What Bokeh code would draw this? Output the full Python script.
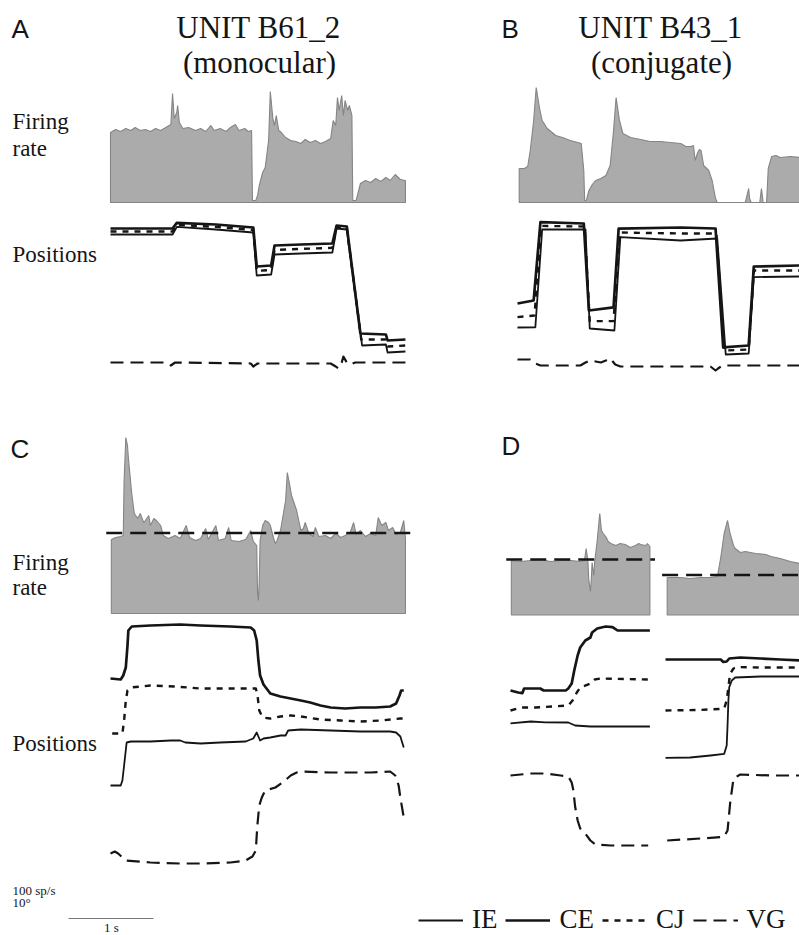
from bokeh.plotting import figure
from bokeh.models import Range1d, Label, Legend, LegendItem
from bokeh.embed import file_html
from bokeh.resources import INLINE

# ---------------- DATA (time in s, firing rate in sp/s, positions in deg) ----------------
# Panel A  (unit B61_2, monocular)
tA_rate = [0.00,0.06,0.12,0.18,0.24,0.29,0.35,0.41,0.47,0.53,0.59,0.65,0.71,0.73,0.75,0.78,0.79,0.81,0.85,0.92,
           1.00,1.06,1.12,1.18,1.22,1.29,1.36,1.41,1.47,1.51,1.58,1.62,1.66,1.67,1.71,1.73,1.75,1.79,1.82,1.86,
           1.88,1.91,1.93,1.95,1.98,2.01,2.06,2.12,2.18,2.24,2.29,2.35,2.41,2.47,2.53,2.59,2.62,2.65,2.67,2.69,
           2.72,2.74,2.76,2.79,2.81,2.84,2.85,2.89,2.92,2.94,3.00,3.06,3.12,3.18,3.24,3.29,3.35,3.41,3.47]
rateA = [140,146,142,148,144,150,144,146,142,148,144,150,156,218,168,180,194,160,148,150,
         144,148,142,154,144,148,142,150,156,144,148,142,144,4,4,14,34,60,70,124,
         222,168,154,174,144,140,130,124,122,118,126,120,124,118,122,128,164,154,210,184,
         214,174,204,184,194,174,4,4,24,38,44,40,48,42,50,44,56,46,44]
tA_ce = [0,0.73,0.78,1.24,1.68,1.72,1.89,1.93,2.24,2.61,2.66,2.78,2.94,3.24,3.26,3.47]
ceA = [31,31,33.8,33,31.5,12,12.5,22.5,23,23.5,32.5,32,-21.5,-22,-25,-24.5]
tA_ie = [0,0.73,0.78,1.24,1.68,1.72,1.89,1.93,2.24,2.61,2.66,2.78,2.96,3.24,3.26,3.47]
ieA = [28,28,31.8,30.5,29,7.5,8,18,18.5,19,31,30.5,-27.5,-27,-31,-30.5]
tA_cj = [0,0.73,0.78,1.24,1.68,1.72,1.89,1.93,2.24,2.61,2.66,2.78,2.95,3.24,3.26,3.47]
cjA = [29.5,29.5,32.8,31.8,30.3,9.8,10.3,20.3,20.8,21.3,31.8,31.3,-24.5,-24.5,-28,-27.5]
tA_vg = [0,0.65,0.71,0.76,1.65,1.68,1.73,2.59,2.65,2.68,2.72,2.74,2.78,2.82,2.88,3.47]
vgA = [0.5,0.5,-1,0.5,0,-1.5,0,0,-1.5,-2.5,0.5,3.5,0.5,-0.5,0.5,0.5]

# Panel B  (unit B43_1, conjugate)
tB_rate = [0.02,0.08,0.12,0.15,0.19,0.22,0.26,0.29,0.35,0.45,0.53,0.62,0.71,0.75,0.78,0.79,0.81,0.84,0.88,0.92,
           0.98,1.04,1.09,1.13,1.16,1.20,1.24,1.33,1.45,1.56,1.68,1.80,1.92,1.98,2.04,2.07,2.09,2.12,2.14,2.16,
           2.19,2.25,2.29,2.33,2.35,2.68,2.72,2.73,2.75,2.85,2.87,2.89,2.93,2.95,2.99,3.04,3.09,3.21,3.32]
rateB = [68,68,72,104,164,230,188,164,148,134,130,124,120,118,64,4,4,24,36,44,
         48,54,74,144,210,164,138,130,126,122,122,120,118,112,112,114,84,100,106,104,
         74,64,44,8,0,0,28,8,0,0,28,0,0,68,92,94,90,92,90]
tB_ce = [0,0.19,0.27,0.78,0.84,1.13,1.19,1.92,2.33,2.42,2.72,2.78,3.32]
ceB = [-6.5,-5,34.2,33.5,-10,-8.4,30.9,31.5,31,-28.4,-27.5,12,12.5]
tB_ie = [0,0.21,0.29,0.80,0.85,1.14,1.21,1.92,2.35,2.45,2.72,2.78,3.32]
ieB = [-18.5,-18.4,30.5,30.5,-19,-20,26.7,25,26,-32,-31.5,6.7,7]
tB_cj = [0,0.20,0.28,0.79,0.85,1.13,1.20,1.92,2.34,2.43,2.72,2.78,3.32]
cjB = [-13.3,-12.5,32.3,32,-15.3,-15.3,29,28.5,28.5,-30,-29.5,10,10]
tB_vg = [0,0.15,0.21,0.27,0.74,0.80,0.86,0.98,1.04,1.09,1.15,1.21,2.15,2.27,2.33,2.36,2.41,3.32]
vgB = [3,3,1,0,0,1.5,2.5,1.5,2.5,3.5,0.5,-0.5,-0.5,-0.5,-2.5,-1.5,0,0]

# Panel C
tC_rate = [0.01,0.06,0.12,0.15,0.16,0.18,0.20,0.21,0.25,0.28,0.32,0.35,0.39,0.41,0.45,0.47,0.51,0.54,0.59,0.62,
           0.68,0.76,0.82,0.89,0.93,1.00,1.06,1.12,1.15,1.24,1.27,1.35,1.39,1.42,1.51,1.59,1.65,1.68,1.72,1.73,
           1.74,1.75,1.76,1.79,1.82,1.86,1.88,1.92,1.94,1.96,2.00,2.04,2.06,2.08,2.11,2.13,2.15,2.19,2.24,2.27,
           2.29,2.33,2.38,2.41,2.45,2.53,2.59,2.65,2.71,2.76,2.82,2.86,2.89,2.94,3.00,3.06,3.12,3.15,3.19,3.24,
           3.27,3.32,3.36,3.41,3.45,3.47]
rateC = [148,152,154,156,266,352,336,312,240,200,190,200,182,186,196,176,190,186,176,156,
         150,156,150,176,152,146,150,170,148,176,146,150,172,146,144,148,166,144,136,40,
         26,66,146,176,186,182,176,150,140,146,166,206,226,282,256,236,226,206,166,170,
         182,162,154,172,154,156,150,160,152,156,162,182,158,166,154,160,156,192,176,182,
         166,172,158,162,186,150]
meanC = 161
tC_ce = [0,0.12,0.15,0.18,0.20,0.21,0.25,0.47,0.82,1.06,1.41,1.65,1.69,1.72,1.74,1.76,1.80,1.88,2.00,2.12,
         2.24,2.35,2.47,2.59,2.76,2.94,3.12,3.29,3.36,3.40,3.42,3.45]
ceC = [31,30.5,32.5,36.5,47.5,55,57,57.5,58,57.5,57,56.5,55,50,40,32.5,28,23.5,22,21,
       20,19,17.5,16.5,16,16.5,16.5,17,18.5,22.5,25,25]
tC_cj = [0.02,0.14,0.16,0.18,0.20,0.24,0.47,0.76,1.06,1.41,1.71,1.73,1.75,1.79,1.88,2.00,2.12,2.24,2.47,2.71,
         2.94,3.18,3.41,3.47]
cjC = [3.5,3.5,10,20,25,26.5,27.5,27,26,26,26,22.5,15,11.5,11,12,12.5,12,10.5,10,9.5,10,11,11]
tC_ie = [0,0.12,0.14,0.16,0.19,0.24,0.47,0.71,0.82,0.88,1.06,1.29,1.59,1.68,1.72,1.74,1.76,1.80,1.88,2.00,
         2.06,2.09,2.24,2.59,2.94,3.29,3.36,3.41,3.45]
ieC = [-22.5,-22.5,-20,-12.5,-1,-0.5,-0.5,0,0,-1,-1.5,-1,-0.5,1,4,2,0,1,1.5,2.5,
       2.5,5,5.5,5,4.5,4.5,4,2,-3.5]
tC_vg = [0,0.05,0.09,0.18,0.47,0.82,1.06,1.41,1.59,1.67,1.71,1.72,1.73,1.75,1.78,1.82,1.94,2.04,2.12,2.19,
         2.24,2.59,2.82,3.06,3.29,3.35,3.39,3.41,3.45]
vgC = [4.5,5.5,4.5,1,0,-0.5,-0.5,0,1,3,6,13.5,19.5,28.5,32.5,36,37.5,40.5,43.5,45,
       45.5,45,45,45,45.5,43.5,38.5,32.5,22.5]

# Panel D, left episode
tDL_rate = [0.01,0.12,0.24,0.35,0.47,0.59,0.71,0.82,0.87,0.89,0.91,0.92,0.94,0.95,0.96,0.98,0.99,1.02,1.05,1.07,
            1.09,1.12,1.15,1.18,1.24,1.29,1.35,1.41,1.47,1.51,1.53,1.59,1.61,1.64]
rateDL = [109,107,109,111,107,109,109,107,109,133,109,73,47,69,105,79,105,149,203,169,
          163,157,147,143,139,143,141,135,139,143,141,139,143,137]
meanDL = 111
tDL_ce = [0,0.09,0.14,0.16,0.35,0.39,0.65,0.68,0.72,0.75,0.79,0.82,0.88,0.94,0.96,1.02,1.12,1.20,1.26,1.64]
ceDL = [15,14,13.7,16,16,15,15,16,18.5,25,32.5,36.5,40,41.5,44,46,47,46.7,45,45]
tDL_cj = [0,0.12,0.29,0.68,0.73,0.78,0.82,0.94,0.99,1.06,1.64]
cjDL = [5,6.5,6.5,7.5,10,14,16.5,18.5,20.5,21,20.5]
tDL_ie = [0,0.24,0.41,0.68,0.76,0.94,1.64]
ieDL = [-1.4,-0.5,-0.9,-1,-2.5,-3,-3]
tDL_vg = [0,0.12,0.24,0.41,0.59,0.68,0.72,0.74,0.76,0.79,0.82,0.88,0.94,1.00,1.18,1.35,1.62]
vgDL = [35,35.5,36,36,35,34.5,31.5,27.5,19.5,12.5,8.5,6,2.5,0.5,0,0,0]

# Panel D, right episode
tDR_rate = [0.02,0.18,0.29,0.41,0.53,0.61,0.65,0.67,0.69,0.73,0.76,0.80,0.82,0.88,0.94,1.06,1.18,1.24,1.35,1.47,1.58]
rateDR = [75,75,73,75,75,77,115,139,163,189,163,139,133,125,127,123,121,117,113,107,103]
meanDR = 80
tDR_ce = [0,0.41,0.65,0.68,0.72,0.75,0.88,1.12,1.35,1.58]
ceDR = [30.5,30.5,30.5,29.3,29.5,31,31.5,31,30.5,30]
tDR_cj = [0,0.41,0.69,0.72,0.74,0.76,0.80,0.84,1.12,1.58]
cjDR = [5,5.3,5.9,10,16.7,23.4,26,26.7,26.5,26.5]
tDR_ie = [0,0.29,0.53,0.69,0.72,0.73,0.74,0.75,0.78,0.82,1.12,1.58]
ieDR = [-18.7,-18.5,-17.5,-16.7,-12.5,-2.5,10,16.7,20,21.5,22,22]
tDR_vg = [0.02,0.41,0.65,0.69,0.73,0.76,0.80,0.88,1.24,1.58]
vgDR = [2.5,3.5,4.2,4.5,7.5,21,33.5,35.5,35,35]

trace_names = ["IE", "CE", "CJ", "VG"]
scale_rate_text = "100 sp/s"
scale_pos_text = "10°"
scale_time_text = "1 s"
SCALE_BAR_S = 1.0

# ---------------- LAYOUT / STYLE ----------------
W, H = 799, 935
PX_PER_S = 85.0      # 1 s
PX_PER_RATE = 0.5    # 100 sp/s = 50 px
PX_PER_DEG = 2.0     # 10 deg = 20 px
# panel: (left px, rate-zero px, position-zero px, vergence-zero px)
PANELS = {
    "A": (110, 202, 290, 363),
    "B": (517, 202, 290, 365),
    "C": (110, 613, 740, 862),
    "DL": (510, 614.5, 720, 845),
    "DR": (665, 614.5, 720, 845),
}
FILL = "#ababab"
EDGE = "#858585"
INK = "#151515"
SERIF = "Liberation Serif"
SANS = "Liberation Sans"
MEAN_EXT = 0.06
STYLES = {
    "IE": dict(line_width=1.8),
    "CE": dict(line_width=2.7),
    "CJ": dict(line_width=2.4, line_dash="6 6"),
    "VG": dict(line_width=2.2, line_dash="13 7"),
}

p = figure(width=W, height=H, x_range=Range1d(0, W), y_range=Range1d(H, 0),
           output_backend="svg", toolbar_location=None, min_border=0,
           x_axis_location=None, y_axis_location=None, outline_line_color=None,
           background_fill_color="white", border_fill_color="white")
p.grid.visible = False

for name, (x0, base, pz, vz) in PANELS.items():
    p.extra_x_ranges["t" + name] = Range1d(-x0 / PX_PER_S, (W - x0) / PX_PER_S)
    p.extra_y_ranges["r" + name] = Range1d((base - H) / PX_PER_RATE, base / PX_PER_RATE)
    p.extra_y_ranges["p" + name] = Range1d((pz - H) / PX_PER_DEG, pz / PX_PER_DEG)
    p.extra_y_ranges["v" + name] = Range1d((vz - H) / PX_PER_DEG, vz / PX_PER_DEG)


def draw_rate(name, t, r, mean=None):
    n = min(len(t), len(r))
    xs = [t[0]] + list(t[:n]) + [t[n - 1]]
    ys = [0] + list(r[:n]) + [0]
    p.patch(xs, ys, fill_color=FILL, line_color=EDGE, line_width=1.1,
            x_range_name="t" + name, y_range_name="r" + name)
    if mean is not None:
        p.line([t[0] - MEAN_EXT, t[n - 1] + MEAN_EXT], [mean, mean], line_color=INK,
               line_width=2.4, line_dash="16 8",
               x_range_name="t" + name, y_range_name="r" + name)


def draw_pos(name, trace, t, v):
    n = min(len(t), len(v))
    rng = ("v" if trace == "VG" else "p") + name
    return p.line(list(t[:n]), list(v[:n]), line_color=INK, line_join="round",
                  x_range_name="t" + name, y_range_name=rng, **STYLES[trace])


draw_rate("A", tA_rate, rateA)
draw_rate("B", tB_rate, rateB)
draw_rate("C", tC_rate, rateC, meanC)
draw_rate("DL", tDL_rate, rateDL, meanDL)
draw_rate("DR", tDR_rate, rateDR, meanDR)

series = {
    "A": {"IE": (tA_ie, ieA), "CE": (tA_ce, ceA), "CJ": (tA_cj, cjA), "VG": (tA_vg, vgA)},
    "B": {"IE": (tB_ie, ieB), "CE": (tB_ce, ceB), "CJ": (tB_cj, cjB), "VG": (tB_vg, vgB)},
    "C": {"IE": (tC_ie, ieC), "CE": (tC_ce, ceC), "CJ": (tC_cj, cjC), "VG": (tC_vg, vgC)},
    "DL": {"IE": (tDL_ie, ieDL), "CE": (tDL_ce, ceDL), "CJ": (tDL_cj, cjDL), "VG": (tDL_vg, vgDL)},
    "DR": {"IE": (tDR_ie, ieDR), "CE": (tDR_ce, ceDR), "CJ": (tDR_cj, cjDR), "VG": (tDR_vg, vgDR)},
}
legend_renderers = {}
for name, tr in series.items():
    for trace in trace_names:
        t, v = tr[trace]
        r = draw_pos(name, trace, t, v)
        if name == "C":
            legend_renderers[trace] = r

# ---------------- TEXT (y = visual centre of the line of text) ----------------
labels = [
    ("A", 11, 28, SANS, "26px", "left"),
    ("B", 501, 28, SANS, "26px", "left"),
    ("C", 10, 448, SANS, "26px", "left"),
    ("D", 501, 445, SANS, "26px", "left"),
    ("UNIT B61_2", 258, 27, SERIF, "31px", "center"),
    ("(monocular)", 259, 62, SERIF, "31px", "center"),
    ("UNIT B43_1", 660, 27, SERIF, "31px", "center"),
    ("(conjugate)", 661, 62, SERIF, "31px", "center"),
    ("Firing", 12, 121, SERIF, "23px", "left"),
    ("rate", 12, 148, SERIF, "23px", "left"),
    ("Positions", 12, 254, SERIF, "23px", "left"),
    ("Firing", 12, 562, SERIF, "23px", "left"),
    ("rate", 12, 587, SERIF, "23px", "left"),
    ("Positions", 12, 743, SERIF, "23px", "left"),
    (scale_rate_text, 12, 890, SERIF, "13px", "left"),
    (scale_pos_text, 12, 902, SERIF, "13px", "left"),
    (scale_time_text, 111, 927, SERIF, "13px", "center"),
]
for text, x, y, font, size, align in labels:
    p.add_layout(Label(x=x, y=y, text=text, text_font=font, text_font_size=size,
                       text_align=align, text_baseline="middle", text_color=INK))

# 1 s scale bar
SB_LEFT, SB_Y = 68, 918
p.line([SB_LEFT, SB_LEFT + SCALE_BAR_S * PX_PER_S], [SB_Y, SB_Y], line_color="#777777", line_width=1)

legend = Legend(items=[LegendItem(label=k, renderers=[legend_renderers[k]]) for k in trace_names],
                orientation="horizontal", location=(418, 0), glyph_width=45, glyph_height=20,
                label_standoff=9, spacing=8, padding=0, margin=0,
                border_line_alpha=0, background_fill_alpha=0,
                label_text_font=SERIF, label_text_font_size="27px", label_text_color=INK)
p.add_layout(legend)

open("out.html", "w").write(file_html(p, INLINE))
